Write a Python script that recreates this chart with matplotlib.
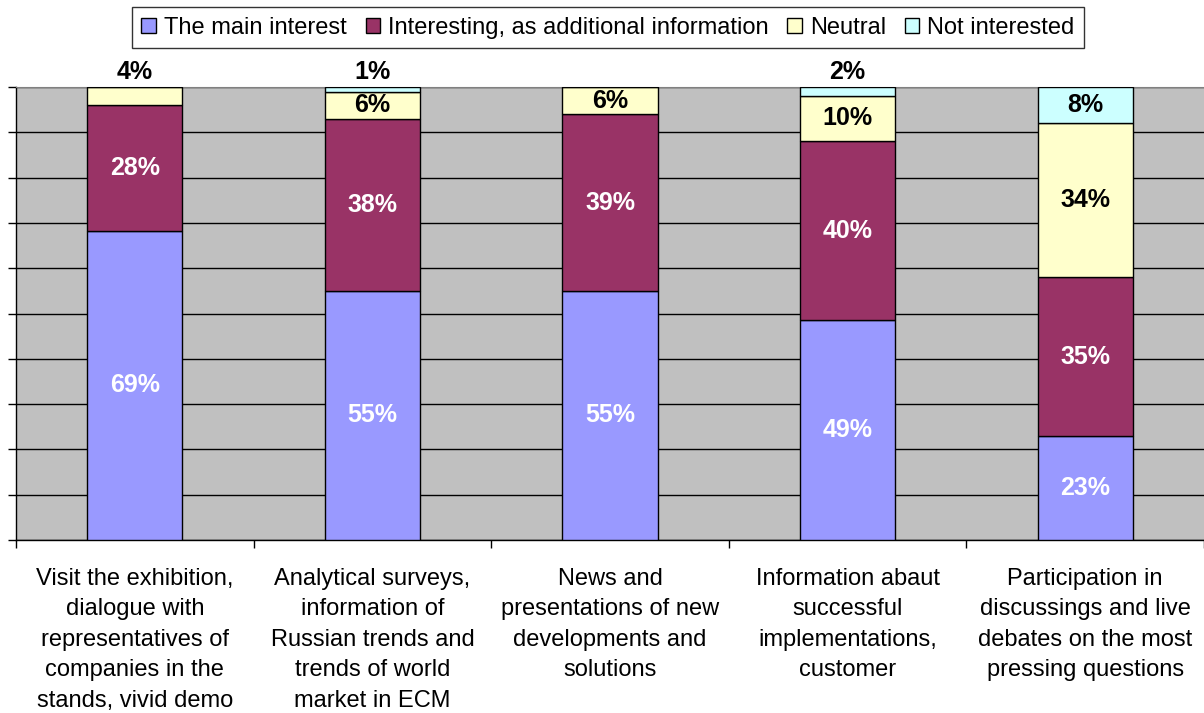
import numpy as np
import matplotlib.pyplot as plt

plt.rcParams['font.family'] = ['Liberation Sans', 'DejaVu Sans']

categories = [
    "Visit the exhibition,\ndialogue with\nrepresentatives of\ncompanies in the\nstands, vivid demo",
    "Analytical surveys,\ninformation of\nRussian trends and\ntrends of world\nmarket in ECM",
    "News and\npresentations of new\ndevelopments and\nsolutions",
    "Information abaut\nsuccessful\nimplementations,\ncustomer",
    "Participation in\ndiscussings and live\ndebates on the most\npressing questions",
]
series_names = ["The main interest", "Interesting, as additional information",
                "Neutral", "Not interested"]
main_interest = [69, 55, 55, 49, 23]
additional = [28, 38, 39, 40, 35]
neutral = [4, 6, 6, 10, 34]
not_interested = [0, 1, 0, 2, 8]

colors = ["#9999FF", "#993366", "#FFFFCC", "#CCFFFF"]
text_colors = ["white", "white", "black", "black"]

data = np.array([main_interest, additional, neutral, not_interested], dtype=float)
totals = data.sum(axis=0)
shares = data / totals * 100

fig = plt.figure(figsize=(12.04, 7.13), dpi=100)
ax = fig.add_axes([16 / 1204, 1 - 540 / 713, 1 - 16 / 1204, (540 - 87) / 713])
ax.set_facecolor("#C0C0C0")

x = np.arange(len(categories))
bottom = np.zeros(len(categories))
for i, name in enumerate(series_names):
    ax.bar(x, shares[i], 0.4, bottom=bottom, color=colors[i], edgecolor="black",
           linewidth=1, label=name, zorder=3)
    for j in range(len(categories)):
        v = data[i, j]
        if v <= 0:
            continue
        if shares[i, j] < 5:
            # small segments get their label above the bar
            ax.text(x[j], 100.6, f"{int(v)}%", ha="center", va="bottom",
                    fontsize=18, fontweight="bold", color="black", clip_on=False)
        else:
            ax.text(x[j], bottom[j] + shares[i, j] / 2, f"{int(v)}%", ha="center",
                    va="center", fontsize=18, fontweight="bold", color=text_colors[i],
                    zorder=4)
    bottom += shares[i]

ax.set_xlim(-0.5, len(categories) - 0.5)
ax.set_ylim(0, 100)
ax.set_yticks(np.arange(0, 101, 10))
ax.set_yticklabels([])
ax.yaxis.grid(True, color="black", linewidth=1, zorder=1)
ax.tick_params(axis="y", direction="out", length=6, width=1)

ax.set_xticks(x)
ax.set_xticklabels(categories, fontsize=17, linespacing=1.5)
ax.tick_params(axis="x", length=0, pad=20)
ax.set_xticks(np.arange(-0.5, len(categories), 1), minor=True)
ax.tick_params(axis="x", which="minor", direction="out", length=6, width=1)

ax.spines["right"].set_visible(False)
ax.spines["top"].set_color("#808080")
ax.spines["left"].set_linewidth(1)
ax.spines["bottom"].set_linewidth(1)

leg = fig.legend(loc="upper center", bbox_to_anchor=(0.505, 0.99), ncol=4,
                 fontsize=17, frameon=True, fancybox=False, edgecolor="black",
                 handlelength=0.6, handleheight=0.6, handletextpad=0.35,
                 columnspacing=0.8, borderpad=0.4, borderaxespad=0)
leg.get_frame().set_linewidth(1)

fig.savefig("out.png", dpi=100)
